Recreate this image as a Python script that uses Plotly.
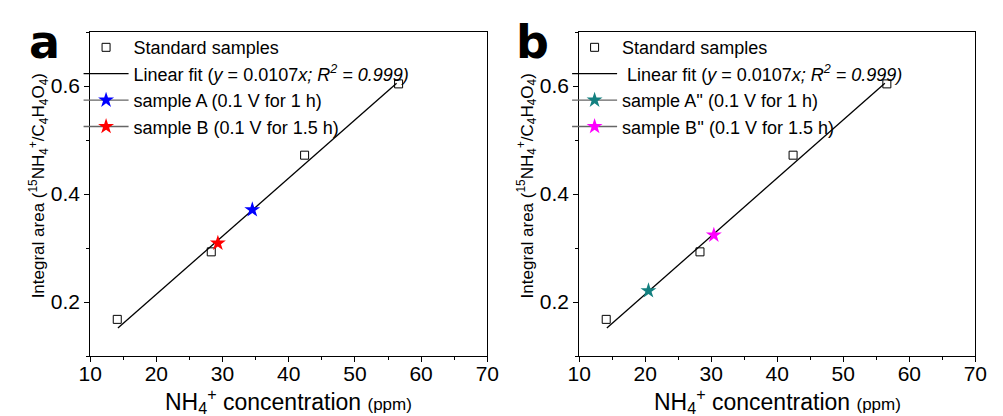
import plotly.graph_objects as go

# ---- data ----
std_x = [14.1, 28.3, 42.4, 56.6]
std_y = [0.168, 0.293, 0.472, 0.604]
fit_x = [14.2, 56.3]
fit_y = [0.152, 0.605]

a_sampleA = ([34.5], [0.371])
a_sampleB = ([29.3], [0.309])
b_sampleA = ([20.5], [0.221])
b_sampleB = ([30.4], [0.324])

x_ticks = [10, 20, 30, 40, 50, 60, 70]
y_ticks = [0.2, 0.4, 0.6]

FONT = "Liberation Sans, Arial, sans-serif"
LEG_FONT = dict(family=FONT, size=18, color="black")

fig = go.Figure()

panels = [
    dict(xa="x", ya="y", leg="legend", labels=("sample A (0.1 V for 1 h)", "sample B (0.1 V for 1.5 h)"),
         colors=("#0000FF", "#FF0000"), pts=(a_sampleA, a_sampleB), fit_name="Linear fit (<i>y</i> = 0.0107<i>x; R<sup>2</sup> = 0.999)</i>"),
    dict(xa="x2", ya="y2", leg="legend2", labels=("sample A'' (0.1 V for 1 h)", "sample B'' (0.1 V for 1.5 h)"),
         colors=("#138080", "#FF00FF"), pts=(b_sampleA, b_sampleB), fit_name=" Linear fit (<i>y</i> = 0.0107<i>x; R<sup>2</sup> = 0.999)</i>"),
]

for p in panels:
    fig.add_trace(go.Scatter(x=std_x, y=std_y, mode="markers", name="Standard samples",
                             marker=dict(symbol="square-open", size=8, color="black", line=dict(width=1)),
                             xaxis=p["xa"], yaxis=p["ya"], legend=p["leg"], legendgroup=p["leg"] + "1"))
    fig.add_trace(go.Scatter(x=fit_x, y=fit_y, mode="lines", name=p["fit_name"],
                             line=dict(color="black", width=1.3),
                             xaxis=p["xa"], yaxis=p["ya"], legend=p["leg"], legendgroup=p["leg"] + "2"))
    for i in range(2):
        fig.add_trace(go.Scatter(x=p["pts"][i][0], y=p["pts"][i][1], mode="lines+markers", name=p["labels"][i],
                                 marker=dict(symbol="star", size=12, color=p["colors"][i]),
                                 line=dict(color="#666666", width=1.3),
                                 xaxis=p["xa"], yaxis=p["ya"], legend=p["leg"], legendgroup=p["leg"] + str(3 + i)))

axis_common = dict(showline=True, linecolor="black", linewidth=1, mirror=True, showgrid=False,
                   zeroline=False, ticks="outside", ticklen=5, tickwidth=1, tickcolor="black",
                   tickfont=dict(family=FONT, size=21, color="black"))
mirror_common = dict(showline=False, showgrid=False, zeroline=False, showticklabels=False,
                     ticks="inside", ticklen=4, tickwidth=1, tickcolor="black")

ydom = [0.144, 0.923]
for idx, oidx, dom in zip(["", "2"], ["3", "4"], [[0.0798, 0.4855], [0.5793, 0.984]]):
    fig.layout["xaxis" + idx] = dict(domain=dom, range=[10, 70], tickvals=x_ticks, anchor="y" + idx,
                                     ticklabelstandoff=-6,
                                     minor=dict(dtick=5, ticks="outside", ticklen=3, tickcolor="black"),
                                     **axis_common)
    fig.layout["yaxis" + idx] = dict(domain=ydom, range=[0.1, 0.7], tickvals=y_ticks, anchor="x" + idx,
                                     tickformat=".1f",
                                     minor=dict(dtick=0.1, ticks="outside", ticklen=3, tickcolor="black"),
                                     **axis_common)
    # inward ticks on the top and right frame edges
    fig.layout["xaxis" + oidx] = dict(overlaying="x" + idx, side="top", anchor="y" + idx, range=[10, 70],
                                      dtick=5, tick0=10, **mirror_common)
    fig.layout["yaxis" + oidx] = dict(overlaying="y" + idx, side="right", anchor="x" + idx, range=[0.1, 0.7],
                                      dtick=0.1, tick0=0.1, **mirror_common)

legend_common = dict(font=LEG_FONT, bgcolor="rgba(0,0,0,0)", tracegroupgap=0, itemwidth=45,
                     xanchor="left", yanchor="top", itemclick=False)
fig.update_layout(
    legend=dict(x=0.068, y=0.93, **legend_common),
    legend2=dict(x=0.567, y=0.93, **legend_common),
)

annotations = []
ytitle = "Integral area (<sup>15</sup>NH<sub>4</sub><sup>+</sup>/C<sub>4</sub>H<sub>4</sub>O<sub>4</sub>)"
xtitle = "NH<sub>4</sub><sup>+</sup> concentration <span style='font-size:17px'>(ppm)</span>"
for xp, letter, xtl, xc in [(27, "a", 33, 283), (527, "b", 533, 784)]:
    annotations.append(dict(text=ytitle, textangle=-90, x=xp / 1003, y=(416 - 186) / 416, xref="paper", yref="paper",
                            showarrow=False, font=dict(family=FONT, size=17, color="black"),
                            xanchor="center", yanchor="middle"))
    annotations.append(dict(text=xtitle, x=xc / 1003, y=(416 - 400.5) / 416, xref="paper", yref="paper",
                            showarrow=False, font=dict(family=FONT, size=23, color="black"),
                            xanchor="center", yanchor="middle"))
    annotations.append(dict(text="<b>" + letter + "</b>", x=xtl / 1003, y=(416 - 42) / 416, xref="paper", yref="paper",
                            showarrow=False, font=dict(family="DejaVu Sans, sans-serif", size=46, color="black"),
                            xanchor="center", yanchor="middle"))

fig.update_layout(
    annotations=annotations,
    width=1003, height=416, margin=dict(l=0, r=0, t=0, b=0),
    paper_bgcolor="white", plot_bgcolor="white", showlegend=True,
)

fig.write_html("out.html")
